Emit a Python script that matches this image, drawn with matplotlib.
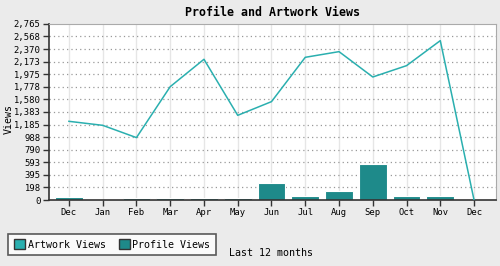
import matplotlib
matplotlib.use("Agg")
import matplotlib.pyplot as plt
from matplotlib.patches import Patch

months = ["Dec", "Jan", "Feb", "Mar", "Apr", "May", "Jun",
          "Jul", "Aug", "Sep", "Oct", "Nov", "Dec"]
artwork_views = [1236, 1173, 980, 1780, 2210, 1330, 1545,
                 2241, 2330, 1932, 2110, 2503, 0]
profile_views = [42, 0, 26, 26, 26, 26, 262, 58, 135, 560, 58, 58, 0]
y_ticks = [0, 198, 395, 593, 790, 988, 1185, 1383, 1580, 1778,
           1975, 2173, 2370, 2568, 2765]

line_color = "#2aafaf"
bar_color = "#1e8a8a"

plt.rcParams['font.family'] = ['DejaVu Sans Mono']

fig = plt.figure(figsize=(5, 2.66), dpi=100, facecolor="#ebebeb")
ax = fig.add_axes([0.098, 0.248, 0.894, 0.662])
ax.set_facecolor("white")

x = list(range(len(months)))

# bars for profile views
ax.bar(x, profile_views, width=0.82, color=bar_color,
       edgecolor="white", linewidth=0.8, zorder=2)

# line for artwork views
ax.plot(x, artwork_views, color=line_color, linewidth=1.1, zorder=3)

ax.set_xlim(-0.59, 12.65)
ax.set_ylim(0, 2765)
ax.set_xticks(x)
ax.set_xticklabels(months, fontsize=6.4)
ax.set_yticks(y_ticks)
ax.set_yticklabels([f"{v:,}" for v in y_ticks], fontsize=6.4)

# grid
for v in y_ticks[1:-1]:
    ax.axhline(v, color="#999999", linestyle=(0, (1, 2.5)), linewidth=0.9, zorder=1)
for xi in x:
    ax.axvline(xi, color="#e6e6e6", linewidth=1, zorder=0.5)

for s in ["top", "right"]:
    ax.spines[s].set_color("#aaaaaa")
for s in ["left", "bottom"]:
    ax.spines[s].set_color("#333333")
    ax.spines[s].set_linewidth(1.2)
ax.tick_params(axis="both", length=4, width=1, color="#333333", pad=2)

ax.set_ylabel("Views", fontsize=7.2)
ax.yaxis.set_label_coords(-0.078, 0.46)
ax.set_xlabel("Last 12 months", fontsize=7.2)
ax.xaxis.set_label_coords(0.497, -0.275)
ax.set_title("Profile and Artwork Views", fontsize=8.4, fontweight="bold", pad=6)

handles = [Patch(facecolor=line_color, edgecolor="#333333", label="Artwork Views"),
           Patch(facecolor=bar_color, edgecolor="#333333", label="Profile Views")]
leg = fig.legend(handles=handles, loc="lower left", bbox_to_anchor=(0.006, 0.022),
                 ncol=2, fontsize=7.2, frameon=True, fancybox=False,
                 handlelength=1.1, handleheight=1.2, handletextpad=0.3,
                 columnspacing=1.3, borderpad=0.55)
leg.get_frame().set_edgecolor("#333333")
leg.get_frame().set_linewidth(1.2)

fig.savefig("out.png", dpi=100, facecolor=fig.get_facecolor())
